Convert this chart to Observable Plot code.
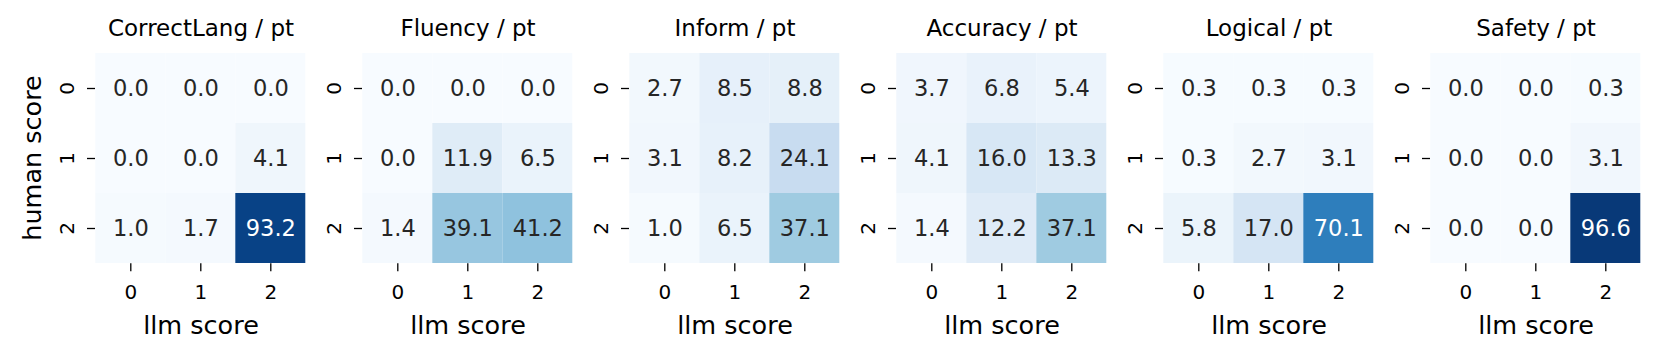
<!DOCTYPE html>
<html><head><meta charset="utf-8">
<script src="https://cdn.jsdelivr.net/npm/d3@7"></script>
<script src="https://cdn.jsdelivr.net/npm/@observablehq/plot@0.6"></script>
<style>html,body{margin:0;padding:0;background:#fff;} #chart svg{display:block}</style>
</head><body><div id="chart"></div>
<script>
// Panels (facets)
const metrics = ["CorrectLang / pt", "Fluency / pt", "Inform / pt", "Accuracy / pt", "Logical / pt", "Safety / pt"];
// Tick labels
const llmScores = ["0", "1", "2"];
const humanScores = ["0", "1", "2"];
// Values, row-major: human score 0..2 (rows) x llm score 0..2 (columns)
const correctLang = [0.0, 0.0, 0.0, 0.0, 0.0, 4.1, 1.0, 1.7, 93.2];
const fluency     = [0.0, 0.0, 0.0, 0.0, 11.9, 6.5, 1.4, 39.1, 41.2];
const inform      = [2.7, 8.5, 8.8, 3.1, 8.2, 24.1, 1.0, 6.5, 37.1];
const accuracy    = [3.7, 6.8, 5.4, 4.1, 16.0, 13.3, 1.4, 12.2, 37.1];
const logical     = [0.3, 0.3, 0.3, 0.3, 2.7, 3.1, 5.8, 17.0, 70.1];
const safety      = [0.0, 0.0, 0.3, 0.0, 0.0, 3.1, 0.0, 0.0, 96.6];

const seriesList = [correctLang, fluency, inform, accuracy, logical, safety];
const rows = [];
metrics.forEach((m, k) => {
  humanScores.forEach((h, i) => {
    llmScores.forEach((l, j) => {
      rows.push({metric: m, human: h, llm: l, value: seriesList[k][i * 3 + j]});
    });
  });
});

// matplotlib "Blues" colormap (ColorBrewer 9 stops, linear in RGB), vmin 0, vmax 100
const blues = ["#f7fbff", "#deebf7", "#c6dbef", "#9ecae1", "#6baed6", "#4292c6", "#2171b5", "#08519c", "#08306b"];
const colorStops = blues.map((_, i) => i * 100 / (blues.length - 1));
const cmap = d3.scaleLinear().domain(colorStops).range(blues).interpolate(d3.interpolateRgb);
function luminance(v) {
  const c = d3.rgb(cmap(v));
  const f = x => { x /= 255; return x <= 0.03928 ? x / 12.92 : Math.pow((x + 0.055) / 1.055, 2.4); };
  return 0.2126 * f(c.r) + 0.7152 * f(c.g) + 0.0722 * f(c.b);
}
const darkRows = rows.filter(d => luminance(d.value) > 0.408);
const lightRows = rows.filter(d => luminance(d.value) <= 0.408);

const chart = Plot.plot({
  width: 1661, height: 356,
  marginLeft: 92.7, marginRight: 18.2, marginTop: 51.7, marginBottom: 92.7,
  style: {fontFamily: "'DejaVu Sans', sans-serif", fontSize: "20px", color: "#000", background: "#fff"},
  fx: {domain: metrics, paddingInner: 0.2096, paddingOuter: 0, label: null},
  x: {domain: llmScores, padding: 0, label: null},
  y: {domain: humanScores, padding: 0, label: null},
  color: {type: "linear", domain: colorStops, range: blues, interpolate: "rgb"},
  marks: [
    Plot.cell(rows, {fx: "metric", x: "llm", y: "human", fill: "value", inset: 0}),
    Plot.text(darkRows, {fx: "metric", x: "llm", y: "human", text: d => d.value.toFixed(1), fill: "#262626", fontSize: 22.5}),
    Plot.text(lightRows, {fx: "metric", x: "llm", y: "human", text: d => d.value.toFixed(1), fill: "#ffffff", fontSize: 22.5}),
    Plot.axisFx({anchor: "top", tickSize: 0, tickPadding: 16, fontSize: 23, label: null}),
    Plot.axisX({anchor: "bottom", tickSize: 8, tickPadding: 13, fontSize: 20, label: null, strokeWidth: 1.3}),
    Plot.axisY({anchor: "left", facetAnchor: null, tickSize: 8, tickPadding: 14, tickRotate: -90, fontSize: 20, label: null, strokeWidth: 1.3}),
    Plot.text(["llm score"], {frameAnchor: "bottom", dy: 52, lineAnchor: "top", textAnchor: "middle", fontSize: 25.5}),
    Plot.text([metrics[0]], {fx: d => d, frameAnchor: "left", rotate: -90, dx: -54, textAnchor: "middle", lineAnchor: "bottom", text: () => "human score", fontSize: 25.5})
  ]
});
document.getElementById("chart").appendChild(chart);
</script>
</body></html>
